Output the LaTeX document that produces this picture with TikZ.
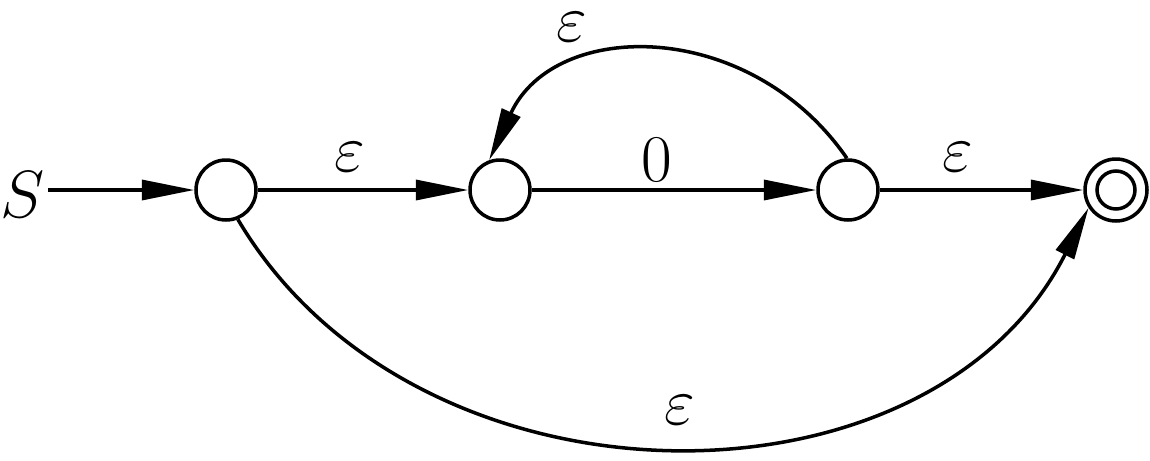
\RequirePackage{fix-cm}
\documentclass[tikz,border=0pt]{standalone}
\usetikzlibrary{arrows.meta}
\begin{document}
\begin{tikzpicture}[x=0.02cm,y=-0.02cm,
  state/.style={circle,draw,line width=2pt,minimum size=1.2cm,inner sep=0pt},
  edge/.style={line width=2pt,-{Triangle[length=1.05cm,width=0.4cm]}},
  lbl/.style={font=\fontsize{38}{40}\selectfont,inner sep=0pt}]
\useasboundingbox (0,0) rectangle (1150,460);
\node[state] (a) at (226,190) {};
\node[state] (b) at (500,190) {};
\node[state] (c) at (848,190) {};
\node[state,minimum size=1.24cm] (f) at (1116,190) {};
\node[state,minimum size=0.76cm] (fi) at (1116,190) {};
\node[lbl] (s) at (23,195) {$S$};
\coordinate (s0) at (48,190);
\draw[edge] (s0) -- (a);
\draw[edge] (a) -- (b);
\draw[edge] (b) -- (c);
\draw[edge] (c) -- (f);
\draw[edge] (c.92) .. controls (750,18) and (555,18) .. (b.110);
\draw[edge] (a.-68) .. controls (417,522) and (930,522) .. (f.-147);
\node[lbl] (e1) at (350,157) {$\varepsilon$};
\node[lbl] (z) at (657,160) {$0$};
\node[lbl] (e2) at (958,157) {$\varepsilon$};
\node[lbl] (e3) at (572,27) {$\varepsilon$};
\node[lbl] (e4) at (680,410) {$\varepsilon$};
\end{tikzpicture}
\end{document}
